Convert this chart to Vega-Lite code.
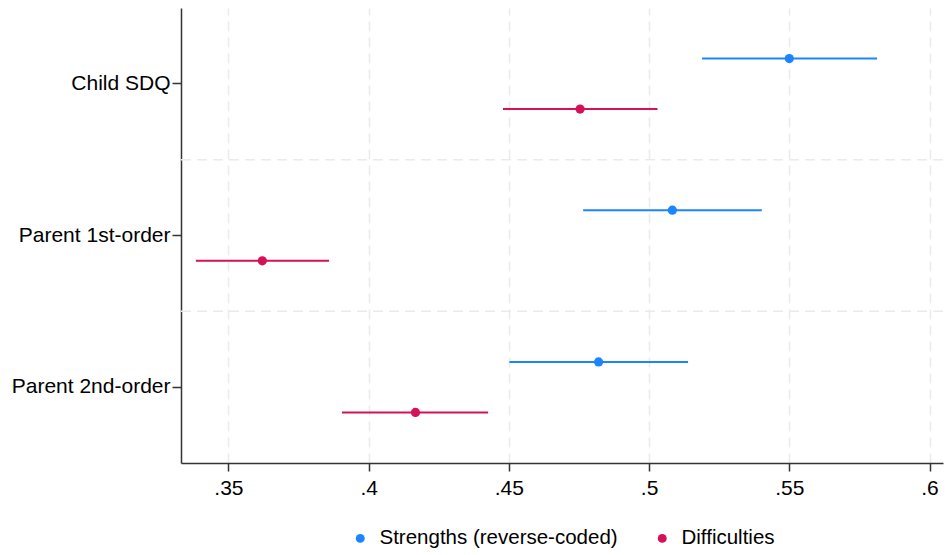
{
  "$schema": "https://vega.github.io/schema/vega-lite/v6.json",
  "width": 762,
  "height": 455,
  "autosize": {"type": "none"},
  "padding": {"left": 181, "top": 8, "right": 2, "bottom": 92},
  "background": "white",
  "config": {
    "font": "Liberation Sans",
    "view": {"stroke": null},
    "axis": {"labelFont": "Liberation Sans", "labelFontSize": 21, "labelColor": "#000000", "domainColor": "#333333", "tickColor": "#333333", "domainWidth": 1.5, "tickWidth": 1.5},
    "legend": {"labelFont": "Liberation Sans", "labelFontSize": 20.5, "labelColor": "#000000", "orient": "bottom", "direction": "horizontal", "title": null,
               "symbolType": "circle", "symbolSize": 80, "symbolStrokeWidth": 0, "columnPadding": 34, "labelOffset": 9, "offset": 30, "labelLimit": 500,
               "layout": {"bottom": {"anchor": "middle"}}}
  },
  "data": {
    "values": [
      {"measure": "Child SDQ", "group": "Strengths (reverse-coded)", "est": 0.550, "lo": 0.5189, "hi": 0.5813},
      {"measure": "Child SDQ", "group": "Difficulties", "est": 0.4754, "lo": 0.4479, "hi": 0.5030},
      {"measure": "Parent 1st-order", "group": "Strengths (reverse-coded)", "est": 0.5083, "lo": 0.4765, "hi": 0.5402},
      {"measure": "Parent 1st-order", "group": "Difficulties", "est": 0.3621, "lo": 0.3384, "hi": 0.3859},
      {"measure": "Parent 2nd-order", "group": "Strengths (reverse-coded)", "est": 0.4820, "lo": 0.4502, "hi": 0.5139},
      {"measure": "Parent 2nd-order", "group": "Difficulties", "est": 0.4167, "lo": 0.3905, "hi": 0.4426}
    ]
  },
  "layer": [
    {
      "transform": [{"filter": "datum.measure != 'Child SDQ' && datum.group == 'Difficulties'"}],
      "mark": {"type": "rule", "color": "#ebebeb", "strokeWidth": 1.5, "strokeDash": [10, 6]},
      "encoding": {
        "y": {"field": "measure", "type": "nominal", "bandPosition": 0,
              "sort": ["Child SDQ", "Parent 1st-order", "Parent 2nd-order"],
              "scale": {"paddingInner": 0, "paddingOuter": 0}}
      }
    },
    {
      "mark": {"type": "rule", "strokeWidth": 2},
      "encoding": {
        "y": {"field": "measure", "type": "nominal",
              "sort": ["Child SDQ", "Parent 1st-order", "Parent 2nd-order"],
              "scale": {"paddingInner": 0, "paddingOuter": 0},
              "axis": {"title": null, "grid": false, "tickSize": 9, "labelPadding": 2}},
        "yOffset": {"field": "group", "type": "nominal",
                    "scale": {"type": "point", "padding": 1.02, "domain": ["Strengths (reverse-coded)", "Difficulties"]}},
        "x": {"field": "lo", "type": "quantitative",
              "scale": {"domain": [0.3331, 0.6048], "nice": false, "zero": false},
              "axis": {"title": null, "values": [0.35, 0.4, 0.45, 0.5, 0.55, 0.6],
                       "labelExpr": "replace(format(datum.value, '.2~f'), '0.', '.')",
                       "grid": true, "gridColor": "#ebebeb", "gridWidth": 1.5, "gridDash": [10, 6],
                       "tickSize": 8, "labelPadding": 6}},
        "x2": {"field": "hi"},
        "color": {"field": "group", "type": "nominal",
                  "scale": {"domain": ["Strengths (reverse-coded)", "Difficulties"], "range": ["#1a85ff", "#d41159"]}}
      }
    },
    {
      "mark": {"type": "point", "filled": true, "opacity": 1, "size": 85},
      "encoding": {
        "y": {"field": "measure", "type": "nominal",
              "sort": ["Child SDQ", "Parent 1st-order", "Parent 2nd-order"]},
        "yOffset": {"field": "group", "type": "nominal",
                    "scale": {"type": "point", "padding": 1.02, "domain": ["Strengths (reverse-coded)", "Difficulties"]}},
        "x": {"field": "est", "type": "quantitative"},
        "color": {"field": "group", "type": "nominal",
                  "scale": {"domain": ["Strengths (reverse-coded)", "Difficulties"], "range": ["#1a85ff", "#d41159"]}}
      }
    }
  ]
}
